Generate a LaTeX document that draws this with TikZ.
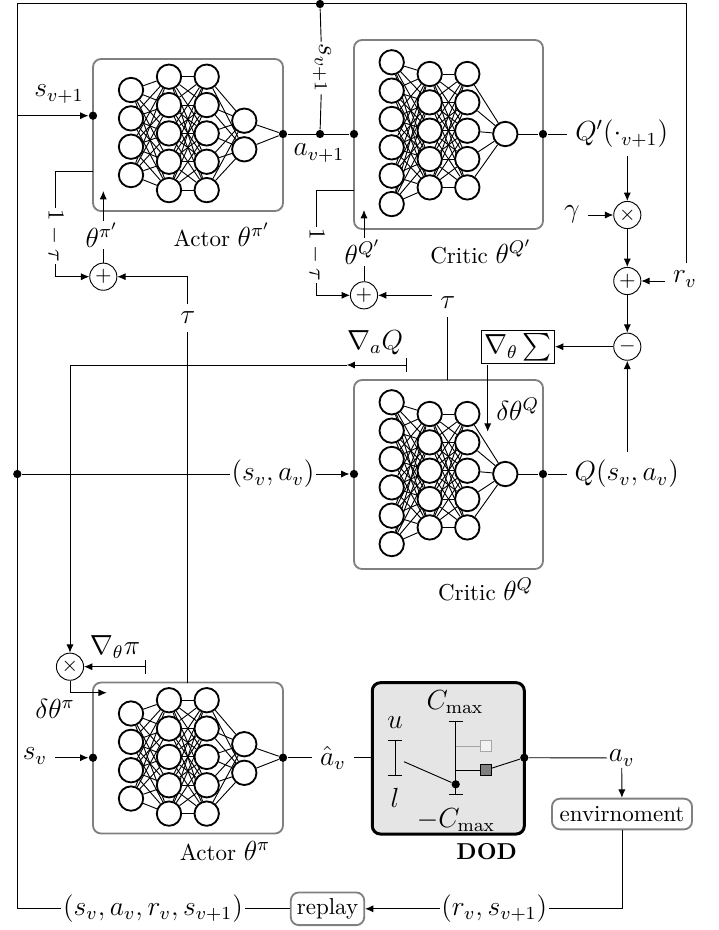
\documentclass[tikz,border=0pt]{standalone}
\usepackage{amssymb}
\usepackage{tikz}
\usepackage{xcolor}
\usetikzlibrary{arrows.meta, backgrounds, calc, positioning}

\tikzset{
  neuron/.style={circle, draw=black, fill=white, line width=0.8pt, minimum size=10.6pt, inner sep=0pt},
  nnedge/.style={line width=0.4pt},
  netbox/.style={draw=gray, line width=0.8pt, rounded corners=3.5pt, inner sep=0pt},
  dot/.style={circle, fill=black, minimum size=3.6pt, inner sep=0pt},
  sig/.style={-{Latex[length=3.6pt,width=3.1pt]}, line width=0.4pt},
  barsig/.style={{Bar[width=6.2pt]}-{Latex[length=3.6pt,width=3.1pt]}, line width=0.4pt},
  limit/.style={{Bar[width=6.2pt]}-{Bar[width=6.2pt]}, line width=0.4pt},
  opnode/.style={circle, draw=black, line width=0.4pt, minimum size=11.8pt, inner sep=0pt, font=\small},
  lbl/.style={inner sep=0.6pt, font=\large},
  padlbl/.style={inner sep=3.3pt, font=\large},
  caption/.style={inner sep=0.6pt},
  sqbox/.style={draw, line width=0.4pt, minimum size=4.8pt, inner sep=0pt},
  textbox/.style={draw=gray, line width=0.8pt, rounded corners=3.5pt}
}

% net with 4-5-5-2 neurons
\newcommand{\actornet}[2]{
  \foreach \i in {1,...,4} \node[neuron] (#1a\i) at (131, {#2+90+(\i-1)*28.35}) {};
  \foreach \i in {1,...,5} \node[neuron] (#1b\i) at (169, {#2+76.7+(\i-1)*28.35}) {};
  \foreach \i in {1,...,5} \node[neuron] (#1c\i) at (206.7, {#2+76.7+(\i-1)*28.35}) {};
  \foreach \i in {1,2} \node[neuron] (#1d\i) at (244.3, {#2+120.7+(\i-1)*28.6}) {};
  \begin{scope}[on background layer]
    \foreach \i in {1,...,4} \foreach \j in {1,...,5} \draw[nnedge] (#1a\i) -- (#1b\j);
    \foreach \i in {1,...,5} \foreach \j in {1,...,5} \draw[nnedge] (#1b\i) -- (#1c\j);
    \foreach \i in {1,...,5} \foreach \j in {1,2} \draw[nnedge] (#1c\i) -- (#1d\j);
  \end{scope}
}

% net with 6-5-5-1 neurons
\newcommand{\criticnet}[2]{
  \foreach \i in {1,...,6} \node[neuron] (#1a\i) at (391.7, {#2+62.3+(\i-1)*28.35}) {};
  \foreach \i in {1,...,5} \node[neuron] (#1b\i) at (429.7, {#2+74+(\i-1)*28.35}) {};
  \foreach \i in {1,...,5} \node[neuron] (#1c\i) at (467.3, {#2+74+(\i-1)*28.35}) {};
  \node[neuron] (#1d) at (505.3, {#2+134}) {};
  \begin{scope}[on background layer]
    \foreach \i in {1,...,6} \foreach \j in {1,...,5} \draw[nnedge] (#1a\i) -- (#1b\j);
    \foreach \i in {1,...,5} \foreach \j in {1,...,5} \draw[nnedge] (#1b\i) -- (#1c\j);
    \foreach \i in {1,...,5} \draw[nnedge] (#1c\i) -- (#1d);
  \end{scope}
}

\begin{document}
\begin{tikzpicture}[x=0.4346pt, y=-0.4346pt]
  \useasboundingbox (0, 0) rectangle (718, 930);

  % boxes
  \draw[netbox] (93, 59) rectangle (283, 211);
  \draw[netbox] (354, 40) rectangle (543, 229);
  \draw[netbox] (354, 380) rectangle (543, 569);
  \draw[netbox] (93, 682.5) rectangle (283, 833.5);
  \draw[netbox, draw=black, fill=gray!20, line width=1.3pt] (372.3, 682.7) rectangle (524.3, 834);

  \actornet{ta}{0}
  \criticnet{tc}{0}
  \criticnet{mc}{340}
  \actornet{ma}{623.5}

  % junctions
  \node[dot] (taIn) at (93, 115.7) {};
  \node[dot] (taOut) at (283, 134) {};
  \node[dot] (tcIn) at (354, 134) {};
  \node[dot] (tcOut) at (543, 134) {};
  \node[dot] (mcIn) at (354, 474) {};
  \node[dot] (mcOut) at (543, 474) {};
  \node[dot] (maIn) at (93, 757.7) {};
  \node[dot] (maOut) at (283, 757.7) {};
  \node[dot] (topDot) at (320, 4) {};
  \node[dot] (midDot) at (320, 134) {};
  \node[dot] (leftDot) at (17.3, 474) {};
  \node[dot] (dodOut) at (524.3, 757.7) {};
  \node[dot] (limDot) at (455.7, 784.3) {};

  \foreach \i in {1,2} \draw[nnedge] (tad\i) -- (taOut);
  \foreach \i in {1,2} \draw[nnedge] (mad\i) -- (maOut);
  \draw[nnedge] (tcd) -- (tcOut);
  \draw[nnedge] (mcd) -- (mcOut);

  % operators
  \node[opnode] (plusA) at (103.3, 276.7) {$+$};
  \node[opnode] (plusB) at (364, 295.3) {$+$};
  \node[opnode] (multQ) at (627.3, 215) {$\times$};
  \node[opnode] (plusR) at (627.3, 281) {$+$};
  \node[opnode] (minusQ) at (627.3, 346.7) {$-$};
  \node[opnode] (multP) at (70, 666.7) {$\times$};

  % labels
  \node[lbl] (sTop) at (59, 94) {$s_{v+1}$};
  \node[lbl, rotate=-90] (sNext) at (322, 68) {$s_{v+1}$};
  \node[lbl] (aNext) at (319, 153) {$a_{v+1}$};
  \node[caption, rotate=-90] (oneA) at (55, 236) {$1-\tau$};
  \node[caption, rotate=-90] (oneB) at (316, 255) {$1-\tau$};
  \node[lbl] (thetaA) at (102, 235) {$\theta^{\pi'}$};
  \node[lbl] (thetaB) at (362.7, 252) {$\theta^{Q'}$};
  \node[caption] (capTa) at (222, 235) {Actor {\large$\theta^{\pi'}$}};
  \node[caption] (capTc) at (481, 252) {Critic {\large$\theta^{Q'}$}};
  \node[caption] (capMc) at (485.7, 589) {Critic {\large$\theta^{Q}$}};
  \node[caption] (capMa) at (225, 851) {Actor {\large$\theta^{\pi}$}};
  \node[padlbl] (tauA) at (187.7, 318) {$\tau$};
  \node[padlbl] (tauB) at (447.7, 303) {$\tau$};
  \node[padlbl] (qPrime) at (621.7, 134) {$Q'(\cdot_{v+1})$};
  \node[padlbl] (gamma) at (572, 214) {$\gamma$};
  \node[padlbl] (rv) at (685, 279) {$r_v$};
  \node[draw, line width=0.4pt, inner sep=1.2pt, font=\large] (gradS) at (518, 347) {$\nabla_\theta\sum$};
  \node[padlbl] (qVal) at (626.7, 474) {$Q(s_v, a_v)$};
  \node[lbl] (dThetaQ) at (517.7, 409) {$\delta\theta^{Q}$};
  \node[lbl] (gradA) at (375, 343) {$\nabla_a Q$};
  \node[lbl] (gradP) at (115, 646.7) {$\nabla_\theta\pi$};
  \node[lbl] (dThetaP) at (55, 709) {$\delta\theta^{\pi}$};
  \node[padlbl] (sv) at (35, 756) {$s_v$};
  \node[lbl] (svav) at (273, 474) {$(s_v, a_v)$};
  \node[padlbl] (aHat) at (333, 757.7) {$\hat{a}_v$};
  \node[lbl] (av) at (621.7, 758) {$a_v$};
  \node[textbox] (env) at (622, 814) {envirnoment};
  \node[textbox, inner sep=2.6pt] (replay) at (327.5, 908.8) {replay};
  \node[lbl] (rvsn) at (494.3, 908.8) {$(r_v, s_{v+1})$};
  \node[lbl] (tuple) at (153, 908.8) {$(s_v, a_v, r_v, s_{v+1})$};

  % DOD inner
  \node[caption] (capDod) at (486.7, 852) {\textbf{DOD}};
  \node[lbl] (cMax) at (455, 702) {$C_{\max}$};
  \node[lbl] (cMin) at (456, 820) {$-C_{\max}$};
  \node[lbl] (uLim) at (395, 723) {$u$};
  \node[lbl] (lLim) at (395, 797.7) {$l$};
  \node[sqbox, draw=gray!70, fill=gray!10] (ghostBox) at (486, 746) {};
  \node[sqbox, fill=gray] (realBox) at (486, 770) {};
  \coordinate (uTop) at (395, 740);
  \coordinate (lBot) at (395, 776);
  \coordinate (bandOut) at (404, 761.7);
  \coordinate (cTop) at (455.7, 721);
  \coordinate (cBot) at (455.7, 795);

  \draw[limit] (uTop) -- (lBot);
  \draw[limit] (cTop) -- (cBot);
  \draw (bandOut) -- (limDot);
  \draw[gray!70] (cTop |- ghostBox) -- (ghostBox);
  \draw (cTop |- realBox) -- (realBox);
  \draw (realBox) -- (dodOut);

  % state and reward loop
  \coordinate (topL) at (17.3, 3);
  \coordinate (topR) at (686.7, 3);
  \coordinate (botL) at (17.3, 908.8);
  \coordinate (dodIn) at (372.3, 757.7);
  \draw (rv.north -| topR) -- (topR) -- (topL) -- (botL) -- (tuple);
  \draw (tuple) -- (replay);
  \draw[sig] (rvsn) -- (replay);
  \draw (env) |- (rvsn);
  \draw[sig] (av) -- (env);
  \draw (dodOut) -- (av);
  \draw (aHat) -- (maOut);
  \draw (aHat) -- (dodIn);
  \draw[sig] (sv.east |- maIn) -- (maIn);
  \draw[sig] (topL |- taIn) -- (taIn);
  \draw (topDot) -- (sNext);
  \draw (sNext) -- (midDot);
  \draw (taOut) -- (tcIn);

  % target updates
  \coordinate (edgeTa) at (93, 171.7);
  \coordinate (edgeTc) at (354, 190);
  \coordinate (oneAtop) at (55, 171.7);
  \coordinate (oneBtop) at (316, 190);
  \coordinate (tipTa) at (103.3, 191);
  \coordinate (tipTc) at (364, 210);
  \coordinate (topMa) at (187.7, 682.5);
  \coordinate (topMc) at (447.7, 380);
  \draw (edgeTa) -- (oneAtop) -- (oneA);
  \draw[sig] (oneA) |- (plusA);
  \draw (edgeTc) -- (oneBtop) -- (oneB);
  \draw[sig] (oneB) |- (plusB);
  \draw (plusA) -- (thetaA.south -| plusA);
  \draw[sig] (thetaA.north -| plusA) -- (tipTa);
  \draw (plusB) -- (thetaB.south -| plusB);
  \draw[sig] (thetaB.north -| plusB) -- (tipTc);
  \draw[sig] (tauA) |- (plusA);
  \draw (tauA) -- (topMa);
  \draw[sig] (tauB.west |- plusB) -- (plusB);
  \draw (tauB) -- (topMc);

  % critic loss
  \coordinate (gradFoot) at (487.7, 365);
  \coordinate (tipMc) at (487.7, 431.7);
  \draw (tcOut) -- (qPrime);
  \draw[sig] (qPrime.south -| multQ) -- (multQ);
  \draw[sig] (gamma.east |- multQ) -- (multQ);
  \draw[sig] (multQ) -- (plusR);
  \draw[sig] (rv.west |- plusR) -- (plusR);
  \draw[sig] (plusR) -- (minusQ);
  \draw[sig] (qVal.north -| minusQ) -- (minusQ);
  \draw[sig] (minusQ) -- (minusQ -| gradS.east);
  \draw[sig] (gradFoot) -- (tipMc);
  \draw (mcOut) -- (qVal);
  \draw[sig] (svav) -- (mcIn);
  \draw (leftDot) -- (svav);

  % policy gradient
  \coordinate (barQ) at (406.7, 365);
  \coordinate (tipQ) at (346.7, 365);
  \coordinate (cornerQ) at (70, 365);
  \coordinate (barP) at (145.7, 666.7);
  \coordinate (cornerP) at (70, 692.7);
  \coordinate (tipP) at (106.7, 692.7);
  \draw[barsig] (barQ) -- (tipQ);
  \draw[sig] (tipQ) -- (cornerQ) -- (multP);
  \draw[barsig] (barP) -- (multP);
  \draw[sig] (multP) -- (cornerP) -- (tipP);
\end{tikzpicture}
\end{document}
